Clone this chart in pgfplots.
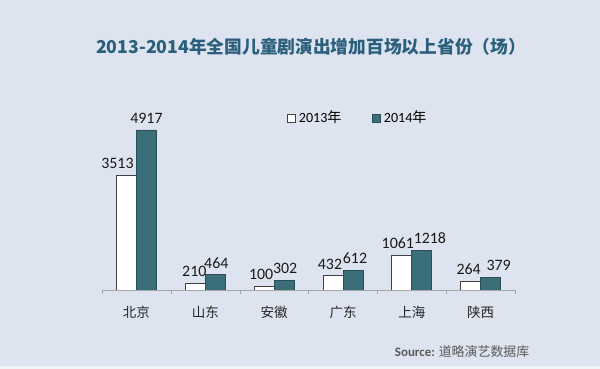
\documentclass[border=0pt]{standalone}
\usepackage{pgfplots}
\usepackage{pgfplotstable}
\pgfplotsset{compat=1.18}
\usepackage{fontspec}
\setmainfont{Carlito}
\newfontfamily\cjk{Noto Sans CJK SC}
\definecolor{bgcol}{HTML}{DDE4EF}
\definecolor{barB}{HTML}{3A6F7A}
\definecolor{barBedge}{HTML}{2C4F57}
\definecolor{titlecol}{HTML}{2B5F7C}
\pgfplotstableread{
x y dx
0 3513 -9
1 210 -1
2 100 -3
3 432 -3
4 1061 -4
5 264 -2
}\dataA
\pgfplotstableread{
x y dx
0 4917 0
1 464 1
2 302 1
3 612 2
4 1218 8
5 379 8
}\dataB
\begin{document}
\begin{tikzpicture}[x=0.025cm,y=0.025cm]
\fill[bgcol] (0,0) rectangle (600,369);
\fill[white!55!bgcol] (0,0) rectangle (600,3);
\node[font=\cjk\bfseries\fontsize{12.6}{14}\selectfont, text=titlecol] at (311,322) {2013-2014年全国儿童剧演出增加百场以上省份（场）};
\begin{axis}[
  at={(2.55cm,1.975cm)}, anchor=south west,
  scale only axis, width=10.325cm, height=4.88cm,
  ybar=0pt, bar width=0.5cm,
  xmin=-0.5, xmax=5.5, ymin=0, ymax=6000,
  axis x line*=bottom, axis y line=none,
  x axis line style={draw=gray!70, -},
  xtick={0,1,2,3,4,5},
  xticklabels={北京,山东,安徽,广东,上海,陕西},
  major tick length=0pt,
  minor xtick={-0.5,0.5,1.5,2.5,3.5,4.5,5.5},
  minor tick length=0.1cm, tick align=outside,
  minor tick style={draw=gray!70},
  xticklabel style={font=\cjk\fontsize{9.6}{11}\selectfont, text=black!85, yshift=-0.27cm},
  nodes near coords,
  visualization depends on={\thisrow{dx} \as \dx},
  every node near coord/.append style={font=\fontsize{11.3}{12}\selectfont, text=black!90, inner xsep=0pt, xshift={\dx*0.025cm}, yshift=0.04cm, /pgf/number format/1000 sep={}, /pgf/number format/assume math mode=true},
  legend style={at={(0.438,0.881)}, anchor=west, draw=none, fill=none, font=\fontsize{10}{12}\selectfont, legend columns=2, /tikz/every even column/.append style={column sep=0.7cm}},
  legend image code/.code={\draw[#1, line width=0.5pt] (0cm,-0.1cm) rectangle (0.2cm,0.1cm);},
]
\addplot[fill=white, draw=black!75, line width=0.6pt] table[x=x, y=y] {\dataA};
\addplot[fill=barB, draw=barBedge, line width=0.6pt] table[x=x, y=y] {\dataB};
\legend{2013{\cjk 年}, 2014{\cjk 年}}
\end{axis}
\node[anchor=west, font=\fontsize{9.2}{11}\selectfont, text=black!65] at (390,17) {\textbf{Source:} {\cjk 道略演艺数据库}};
\end{tikzpicture}
\end{document}
